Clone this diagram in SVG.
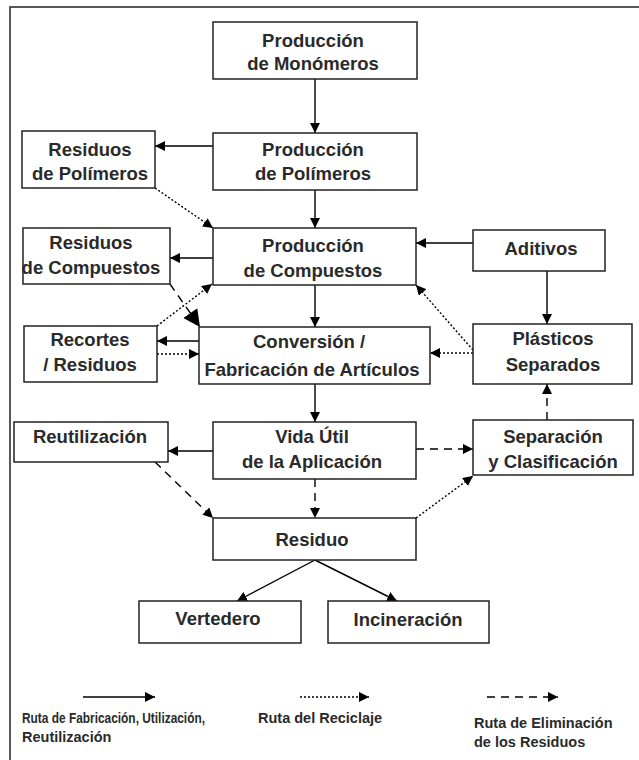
<svg xmlns="http://www.w3.org/2000/svg" width="639" height="760" viewBox="0 0 639 760">
<style>
.box{fill:#fff;stroke:#222;stroke-width:1.5}
.t{font-family:"Liberation Sans",Arial,sans-serif;font-weight:bold;font-size:18.5px;fill:#2a2a2a;text-anchor:middle}
.lg{font-family:"Liberation Sans",Arial,sans-serif;font-weight:bold;font-size:14.5px;fill:#2a2a2a}
.s{fill:none;stroke:#000;stroke-width:1.4}
.d{fill:none;stroke:#000;stroke-width:1.4;stroke-dasharray:2 2}
.k{fill:none;stroke:#000;stroke-width:1.4;stroke-dasharray:8 6}
</style>
<defs>
<marker id="a" viewBox="0 0 10 10" refX="10" refY="5" markerWidth="10" markerHeight="10" markerUnits="userSpaceOnUse" orient="auto"><path d="M0,0 L10,5 L0,10 z" fill="#000"/></marker>
<marker id="b" viewBox="0 0 10 10" refX="10" refY="5" markerWidth="17" markerHeight="19" markerUnits="userSpaceOnUse" orient="auto"><path d="M0,0 L10,5 L0,10 z" fill="#000"/></marker>
</defs>
<path d="M10,760 V7 H639" fill="none" stroke="#222" stroke-width="1.5"/>
<g id="connectors">
<path class="s" d="M315,79 V133" marker-end="url(#a)"/>
<path class="s" d="M213,146 H155" marker-end="url(#a)"/>
<path class="s" d="M315,190 V228" marker-end="url(#a)"/>
<path class="d" d="M155,188 L213,228" marker-end="url(#a)"/>
<path class="s" d="M213,258 H170" marker-end="url(#a)"/>
<path class="d" d="M157,326 L212,284" marker-end="url(#a)"/>
<path class="k" d="M170,284 L200,327" marker-end="url(#b)"/>
<path class="s" d="M315,285 V327" marker-end="url(#a)"/>
<path class="s" d="M473,243 H416" marker-end="url(#a)"/>
<path class="s" d="M547,271 V324" marker-end="url(#a)"/>
<path class="d" d="M473,350 L416,285" marker-end="url(#a)"/>
<path class="d" d="M473,353 H430" marker-end="url(#a)"/>
<path class="s" d="M199,341 H157" marker-end="url(#a)"/>
<path class="d" d="M157,354 H199" marker-end="url(#a)"/>
<path class="s" d="M315,384 V422" marker-end="url(#a)"/>
<path class="s" d="M213,451 H168" marker-end="url(#a)"/>
<path class="k" d="M416,449 H473" marker-end="url(#a)"/>
<path class="k" d="M547,420 V384" marker-end="url(#a)"/>
<path class="k" d="M155,462 L213,518" marker-end="url(#a)"/>
<path class="k" d="M315,479 V518" marker-end="url(#a)"/>
<path class="d" d="M416,518 L473,476" marker-end="url(#a)"/>
<path class="s" d="M315,560 L237,601" marker-end="url(#a)"/>
<path class="s" d="M315,560 L397,601" marker-end="url(#a)"/>
</g>
<g id="n-monomeros"><rect class="box" x="213" y="22" width="204" height="57"/><text class="t" x="313" y="47">Producción</text><text class="t" x="313" y="70">de Monómeros</text></g>
<g id="n-polimeros"><rect class="box" x="213" y="133" width="204" height="57"/><text class="t" x="313" y="156">Producción</text><text class="t" x="313" y="180">de Polímeros</text></g>
<g id="n-res-polimeros"><rect class="box" x="22" y="131" width="133" height="57"/><text class="t" x="90" y="156">Residuos</text><text class="t" x="90" y="180">de Polímeros</text></g>
<g id="n-compuestos"><rect class="box" x="213" y="228" width="203" height="57"/><text class="t" x="313" y="252">Producción</text><text class="t" x="313" y="277">de Compuestos</text></g>
<g id="n-res-compuestos"><rect class="box" x="23" y="228" width="147" height="56"/><text class="t" x="91" y="249">Residuos</text><text class="t" x="91" y="274">de Compuestos</text></g>
<g id="n-aditivos"><rect class="box" x="473" y="230" width="132" height="41"/><text class="t" x="541" y="255">Aditivos</text></g>
<g id="n-recortes"><rect class="box" x="24" y="326" width="133" height="56"/><text class="t" x="90" y="346">Recortes</text><text class="t" x="90" y="371">/ Residuos</text></g>
<g id="n-conversion"><rect class="box" x="199" y="327" width="231" height="57"/><text class="t" x="309" y="348">Conversión /</text><text class="t" x="312" y="376">Fabricación de Artículos</text></g>
<g id="n-plasticos"><rect class="box" x="473" y="324" width="159" height="60"/><text class="t" x="553" y="345">Plásticos</text><text class="t" x="553" y="371">Separados</text></g>
<g id="n-reutilizacion"><rect class="box" x="14" y="422" width="154" height="40"/><text class="t" x="90" y="443">Reutilización</text></g>
<g id="n-vida"><rect class="box" x="213" y="422" width="203" height="57"/><text class="t" x="312" y="443">Vida Útil</text><text class="t" x="312" y="468">de la Aplicación</text></g>
<g id="n-separacion"><rect class="box" x="473" y="420" width="160" height="55"/><text class="t" x="553" y="443">Separación</text><text class="t" x="553" y="468">y Clasificación</text></g>
<g id="n-residuo"><rect class="box" x="213" y="518" width="203" height="42"/><text class="t" x="312" y="546">Residuo</text></g>
<g id="n-vertedero"><rect class="box" x="139" y="601" width="162" height="42"/><text class="t" x="218" y="625">Vertedero</text></g>
<g id="n-incineracion"><rect class="box" x="328" y="601" width="161" height="42"/><text class="t" x="408" y="626">Incineración</text></g>
<g id="legend">
<path class="s" d="M83,697 H155" marker-end="url(#a)"/>
<path class="d" d="M300,697 H369" marker-end="url(#a)"/>
<path class="k" d="M487,697 H558" marker-end="url(#a)"/>
<text class="lg" x="22" y="723" textLength="183" lengthAdjust="spacingAndGlyphs">Ruta de Fabricación, Utilización,</text>
<text class="lg" x="22" y="742">Reutilización</text>
<text class="lg" x="258" y="723">Ruta del Reciclaje</text>
<text class="lg" x="474" y="728">Ruta de Eliminación</text>
<text class="lg" x="474" y="747">de los Residuos</text>
</g>
</svg>
